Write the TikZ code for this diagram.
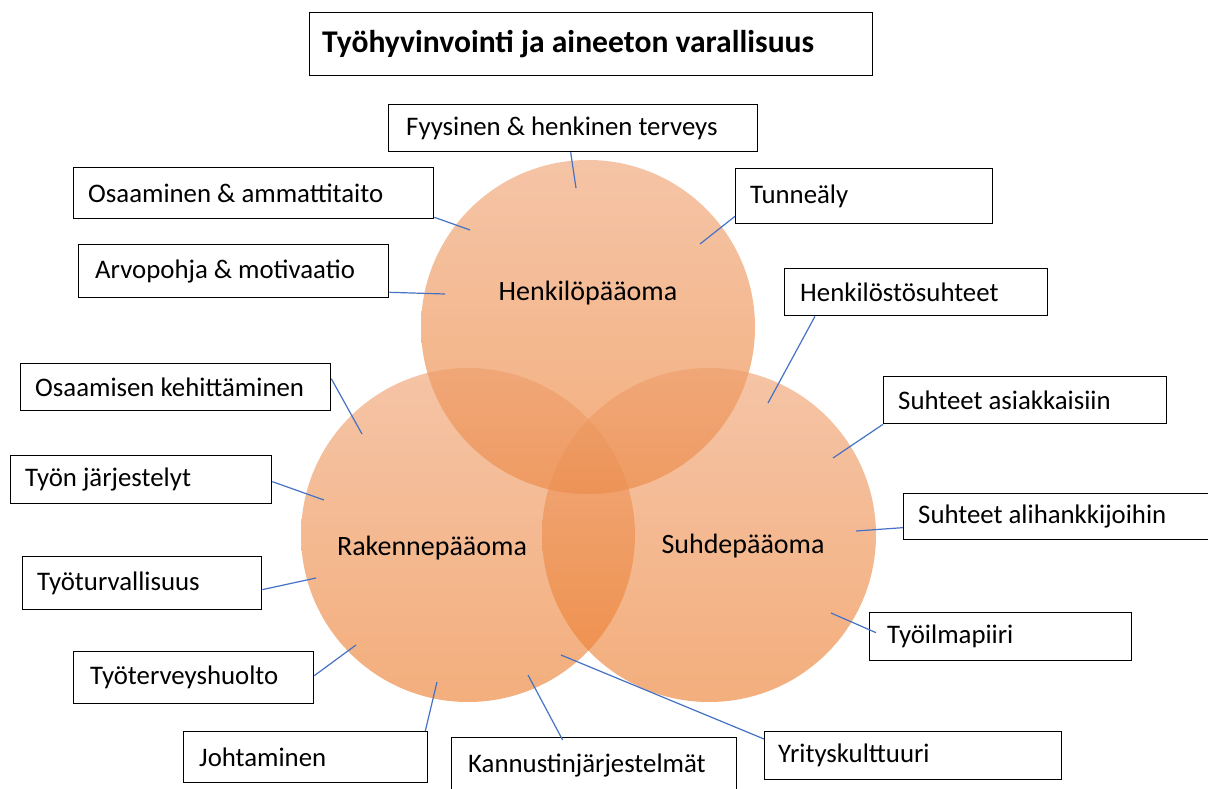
\documentclass[tikz,border=0pt]{standalone}
\usepackage{fontspec}
\setmainfont{Carlito}
\definecolor{conncol}{HTML}{4472C4}
\definecolor{ctop}{HTML}{EE9D6B}
\definecolor{cbot}{HTML}{EB7825}
\tikzset{
  box/.style={draw=black, line width=1.3pt, fill=none, inner sep=0pt, anchor=north west},
  lbltext/.style={anchor=west, inner sep=0pt, font=\fontsize{26.8}{30}\selectfont, text=black},
  circtext/.style={inner sep=0pt, font=\fontsize{28}{32}\selectfont, text=black},
  conn/.style={draw=conncol, line width=1.2pt},
  venn/.style={top color=ctop, bottom color=cbot, fill opacity=0.6, draw=none}
}
\newcommand\lbox[7]{%
  \node[box, minimum width=#4pt, minimum height=#5pt] (#1) at (#2,#3) {};
  \node[lbltext] (#1t) at ([xshift=#6pt]#1.west) {#7};
}
\begin{document}
\begin{tikzpicture}[x=1pt,y=-1pt]
\useasboundingbox (0,0) rectangle (1208,789);
% circles
\shade[venn] (588,327) circle[radius=167pt];
\shade[venn] (468,535) circle[radius=167pt];
\shade[venn] (709,535) circle[radius=167pt];
\node[circtext] (henk) at (588,293) {Henkilöpääoma};
\node[circtext] (rak) at (432,548) {Rakennepääoma};
\node[circtext] (suh) at (743,546) {Suhdepääoma};
% title
\node[box, minimum width=563pt, minimum height=63pt] (title) at (309,12) {};
\node[lbltext, font=\fontsize{31.6}{34}\selectfont\bfseries] (titlet) at ([xshift=13pt]title.west) {Työhyvinvointi ja aineeton varallisuus};
% label boxes
\lbox{fyy}{388}{104}{369}{47}{18}{Fyysinen \& henkinen terveys}
\lbox{osa}{73}{167}{360}{51}{15}{Osaaminen \& ammattitaito}
\lbox{tun}{735}{168}{257}{55}{15}{Tunneäly}
\lbox{arv}{78}{244}{310}{53}{17}{Arvopohja \& motivaatio}
\lbox{hen}{784}{268}{263}{47}{16}{Henkilöstösuhteet}
\lbox{oke}{20}{363}{310}{47}{15}{Osaamisen kehittäminen}
\lbox{sas}{883}{376}{283}{47}{15}{Suhteet asiakkaisiin}
\lbox{tja}{10}{455}{261}{48}{15}{Työn järjestelyt}
\lbox{sal}{903}{493}{312}{46}{15}{Suhteet alihankkijoihin}
\lbox{ttu}{22}{556}{239}{53}{15}{Työturvallisuus}
\lbox{til}{869}{612}{262}{48}{18}{Työilmapiiri}
\lbox{tth}{73}{651}{240}{52}{17}{Työterveyshuolto}
\lbox{joh}{183}{731}{244}{51}{16}{Johtaminen}
\lbox{kan}{451}{737}{285}{56}{17}{Kannustinjärjestelmät}
\lbox{yri}{764}{731}{297}{48}{14}{Yrityskulttuuri}
% connector ends on circles
\coordinate (pfyy) at (576,188);
\coordinate (posa) at (470,230);
\coordinate (ptun) at (700,244);
\coordinate (parv) at (445,294);
\coordinate (phen) at (768,403);
\coordinate (poke) at (362,434);
\coordinate (psas) at (833,458);
\coordinate (ptja) at (324,500);
\coordinate (psal) at (856,531);
\coordinate (pttu) at (316,578);
\coordinate (ptil) at (831,613);
\coordinate (ptth) at (356,645);
\coordinate (pjoh) at (437,682);
\coordinate (pkan) at (528,675);
\coordinate (pyri) at (561,655);
% connectors
\draw[conn] ([xshift=-2.5pt]fyy.south) -- (pfyy);
\draw[conn] ([yshift=2pt]osa.south east) -- (posa);
\draw[conn] ([yshift=8pt]tun.south west) -- (ptun);
\draw[conn] ([yshift=6pt]arv.south east) -- (parv);
\draw[conn] ([xshift=31pt]hen.south west) -- (phen);
\draw[conn] ([yshift=8.5pt]oke.east) -- (poke);
\draw[conn] (sas.south west) -- (psas);
\draw[conn] ([yshift=-2pt]tja.east) -- (ptja);
\draw[conn] ([yshift=-11pt]sal.west) -- (psal);
\draw[conn] ([yshift=-6.5pt]ttu.east) -- (pttu);
\draw[conn] ([xshift=7pt,yshift=4pt]til.west) -- (ptil);
\draw[conn] ([yshift=2pt]tth.east) -- (ptth);
\draw[conn] ([xshift=-3pt]joh.north east) -- (pjoh);
\draw[conn] ([xshift=-31.5pt,yshift=-3pt]kan.north) -- (pkan);
\draw[conn] ([yshift=-8pt]yri.north west) -- (pyri);
\end{tikzpicture}
\end{document}
